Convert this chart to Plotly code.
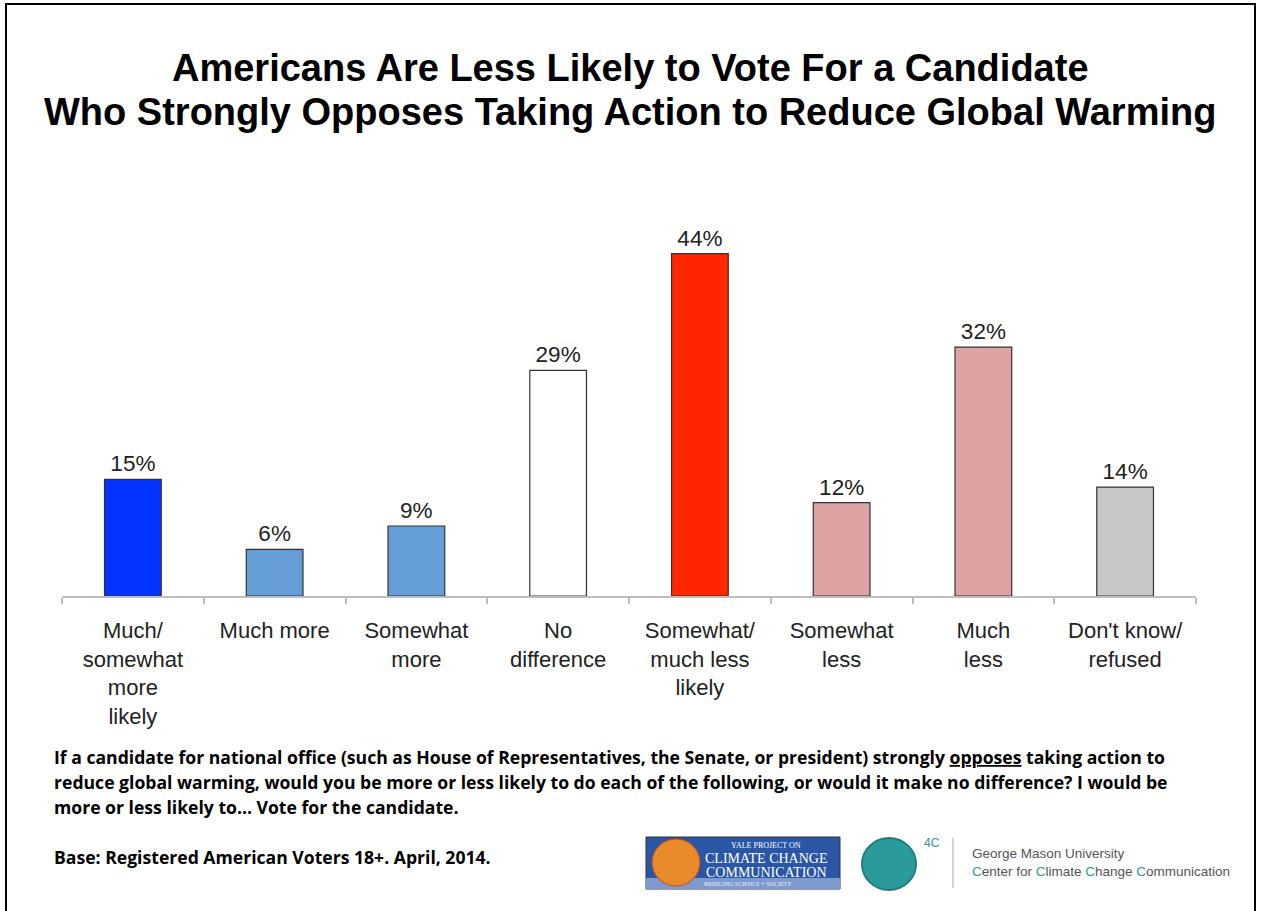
import plotly.graph_objects as go

categories = [
    "Much/<br>somewhat<br>more<br>likely",
    "Much more",
    "Somewhat<br>more",
    "No<br>difference",
    "Somewhat/<br>much less<br>likely",
    "Somewhat<br>less",
    "Much<br>less",
    "Don't know/<br>refused",
]
values = [15, 6, 9, 29, 44, 12, 32, 14]
bar_colors = ["#0433FF", "#659ED7", "#659ED7", "#FFFFFF", "#FF2600", "#DDA3A3", "#DDA3A3", "#C8C8C8"]

title_lines = [
    "Americans Are Less Likely to Vote For a Candidate",
    "Who Strongly Opposes Taking Action to Reduce Global Warming",
]
footnote_lines = [
    "If a candidate for national office (such as House of Representatives, the Senate, or president) strongly "
    "<span style='text-decoration:underline'>opposes</span> taking action to",
    "reduce global warming, would you be more or less likely to do each of the following, or would it make no difference? I would be",
    "more or less likely to\u2026 Vote for the candidate.",
]
base_note = "Base: Registered American Voters 18+. April, 2014."

W, H = 1261, 911
L, R, T, B = 62, 1196, 207, 596
YMAX = 50


def px(x):
    return (x - L) / (R - L)


def py(y):
    return (B - y) / (B - T)


fig = go.Figure()
fig.add_trace(go.Bar(
    x=categories,
    y=values,
    marker=dict(color=bar_colors, line=dict(color="#333333", width=1.2)),
    text=[f"{v}%" for v in values],
    textposition="outside",
    textfont=dict(family="Liberation Sans, Arial", size=22.5, color="#222222"),
    cliponaxis=False,
    width=0.4,
    hoverinfo="skip",
))

annotations = []
for i, line in enumerate(title_lines):
    annotations.append(dict(
        x=px(630), y=py(68 + 44 * i), xref="paper", yref="paper",
        text=f"<b>{line}</b>", showarrow=False, xanchor="center", yanchor="middle",
        font=dict(family="Liberation Sans, Arial", size=38, color="#000000"),
    ))
for i, line in enumerate(footnote_lines):
    annotations.append(dict(
        x=px(52), y=py(757 + 25 * i), xref="paper", yref="paper",
        text=f"<b>{line}</b>", showarrow=False, xanchor="left", yanchor="middle",
        font=dict(family="Open Sans, Lato", size=17.6, color="#000000"),
    ))
annotations.append(dict(
    x=px(52), y=py(857), xref="paper", yref="paper",
    text=f"<b>{base_note}</b>", showarrow=False, xanchor="left", yanchor="middle",
    font=dict(family="Open Sans, Lato", size=17.6, color="#000000"),
))

# Yale logo text
yale_lines = [("YALE PROJECT ON", 8, 845), ("CLIMATE CHANGE", 14, 858), ("COMMUNICATION", 14, 872)]
for t, s, yy in yale_lines:
    annotations.append(dict(
        x=px(766), y=py(yy), xref="paper", yref="paper", text=t, showarrow=False,
        xanchor="center", yanchor="middle",
        font=dict(family="Liberation Serif, DejaVu Serif", size=s, color="#FFFFFF"),
    ))
annotations.append(dict(
    x=px(702), y=py(884), xref="paper", yref="paper", text="BRIDGING SCIENCE + SOCIETY",
    showarrow=False, xanchor="left", yanchor="middle",
    font=dict(family="Liberation Serif, DejaVu Serif", size=6, color="#E8EEF8"),
))
annotations.append(dict(
    x=px(922), y=py(843), xref="paper", yref="paper", text="4C", showarrow=False,
    xanchor="left", yanchor="middle",
    font=dict(family="Liberation Sans, Arial", size=12, color="#2A9A9A"),
))
annotations.append(dict(
    x=px(970), y=py(853), xref="paper", yref="paper", text="George Mason University",
    showarrow=False, xanchor="left", yanchor="middle",
    font=dict(family="Liberation Sans, Arial", size=13.5, color="#555555"),
))
teal = "#2A9A9A"
gmu2 = (f"<span style='color:{teal}'>C</span>enter for <span style='color:{teal}'>C</span>limate "
        f"<span style='color:{teal}'>C</span>hange <span style='color:{teal}'>C</span>ommunication")
annotations.append(dict(
    x=px(970), y=py(871), xref="paper", yref="paper", text=gmu2,
    showarrow=False, xanchor="left", yanchor="middle",
    font=dict(family="Liberation Sans, Arial", size=13.5, color="#555555"),
))

shapes = [
    # outer frame
    dict(type="rect", xref="paper", yref="paper", x0=px(6), x1=px(1255), y0=py(4), y1=py(930),
         line=dict(color="#000000", width=2), fillcolor="rgba(0,0,0,0)", layer="below"),
    # Yale logo
    dict(type="rect", xref="paper", yref="paper", x0=px(646), x1=px(840), y0=py(837), y1=py(889),
         line=dict(color="#333333", width=1), fillcolor="#2B56A6"),
    dict(type="rect", xref="paper", yref="paper", x0=px(646), x1=px(840), y0=py(878), y1=py(889),
         line=dict(width=0), fillcolor="#7D9BD0"),
    dict(type="circle", xref="paper", yref="paper", x0=px(652), x1=px(700), y0=py(839), y1=py(886),
         line=dict(color="#C84A10", width=1), fillcolor="#E8892A"),
    # 4C logo
    dict(type="circle", xref="paper", yref="paper", x0=px(862), x1=px(916), y0=py(838), y1=py(890),
         line=dict(color="#1F7F80", width=2), fillcolor="#2A9A9A"),
    dict(type="line", xref="paper", yref="paper", x0=px(953), x1=px(953), y0=py(838), y1=py(888),
         line=dict(color="#AAAAAA", width=1)),
]

fig.update_layout(
    width=W, height=H,
    margin=dict(l=L, r=W - R, t=T, b=H - B),
    paper_bgcolor="#FFFFFF", plot_bgcolor="#FFFFFF",
    showlegend=False,
    annotations=annotations,
    shapes=shapes,
    xaxis=dict(
        showline=True, linecolor="#BDBDBD", linewidth=1.5,
        ticks="outside", tickson="boundaries", ticklen=6, tickcolor="#BDBDBD", tickwidth=1.5,
        tickfont=dict(family="Liberation Sans, Arial", size=22, color="#222222"),
        ticklabelstandoff=14, showgrid=False, fixedrange=True,
    ),
    yaxis=dict(range=[0, YMAX], visible=False, fixedrange=True),
)

fig.write_html(
    "out.html",
    config={"displayModeBar": False},
    post_script="document.body.style.margin='0';document.body.style.overflow='hidden';",
)
